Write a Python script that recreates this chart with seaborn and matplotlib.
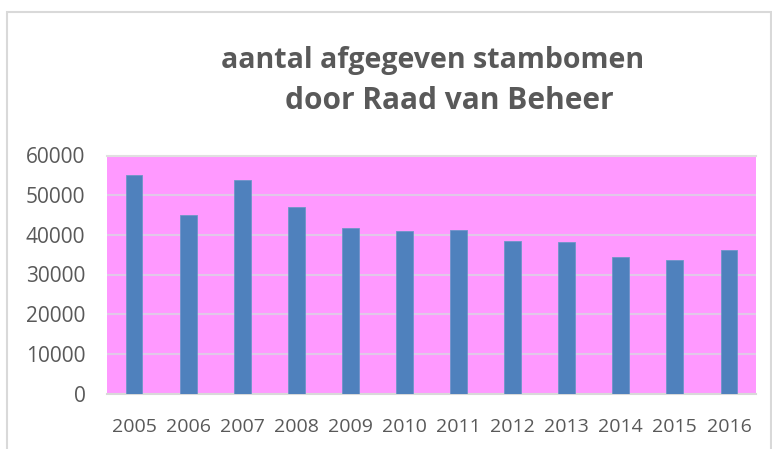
import matplotlib
matplotlib.use("Agg")
import matplotlib.pyplot as plt
import seaborn as sns
import pandas as pd
from matplotlib.patches import Rectangle

years = ["2005", "2006", "2007", "2008", "2009", "2010",
         "2011", "2012", "2013", "2014", "2015", "2016"]
stambomen = [55100, 45000, 53800, 47000, 41700, 41000,
             41100, 38400, 38200, 34300, 33700, 36200]
yticks = [0, 10000, 20000, 30000, 40000, 50000, 60000]

df = pd.DataFrame({"jaar": years, "aantal": stambomen})

sns.set_style("white")
plt.rcParams['font.family'] = ['Open Sans', 'DejaVu Sans']

fig = plt.figure(figsize=(7.72, 4.49), dpi=100)
# chart border
fig.patches.append(Rectangle((7 / 772, -0.05), (771 - 7) / 772, (449 - 12) / 449 + 0.05,
                             transform=fig.transFigure, fill=False,
                             edgecolor="#d9d9d9", linewidth=1.5))

ax = fig.add_axes([107 / 772, 1 - 393.5 / 449, (756 - 107) / 772, (393.5 - 155.5) / 449])
ax.set_facecolor("#ff99ff")
sns.barplot(data=df, x="jaar", y="aantal", color="#4f81bd", width=0.31,
            edgecolor="#6f95c8", linewidth=0.6, saturation=1, ax=ax, zorder=3)

ax.set_ylim(0, 60000)
ax.set_xlim(-0.5, len(years) - 0.5)
ax.set_yticks(yticks)
ax.set_yticklabels([str(v) for v in yticks])
ax.yaxis.grid(True, color="#e0c8e8", linewidth=1.5, zorder=0)
ax.set_axisbelow(True)
ax.set_xlabel("")
ax.set_ylabel("")
ax.tick_params(axis="both", length=0, colors="#595959")
ax.tick_params(axis="x", pad=18, labelsize=14)
ax.tick_params(axis="y", pad=15.5, labelsize=15)
for s in ["left", "right"]:
    ax.spines[s].set_visible(False)
ax.spines["bottom"].set_color("#d9d9d9")
ax.spines["bottom"].set_linewidth(1.5)
ax.spines["top"].set_color("#e0e0e0")
ax.spines["top"].set_linewidth(1.5)

fig.text(433 / 772, 1 - 60 / 449, "aantal afgegeven stambomen", ha="center", va="center",
         fontsize=20.5, fontweight="bold", color="#595959")
fig.text(449 / 772, 1 - 101 / 449, "door Raad van Beheer", ha="center", va="center",
         fontsize=21.5, fontweight="bold", color="#595959")

fig.savefig("out.png", dpi=100)
